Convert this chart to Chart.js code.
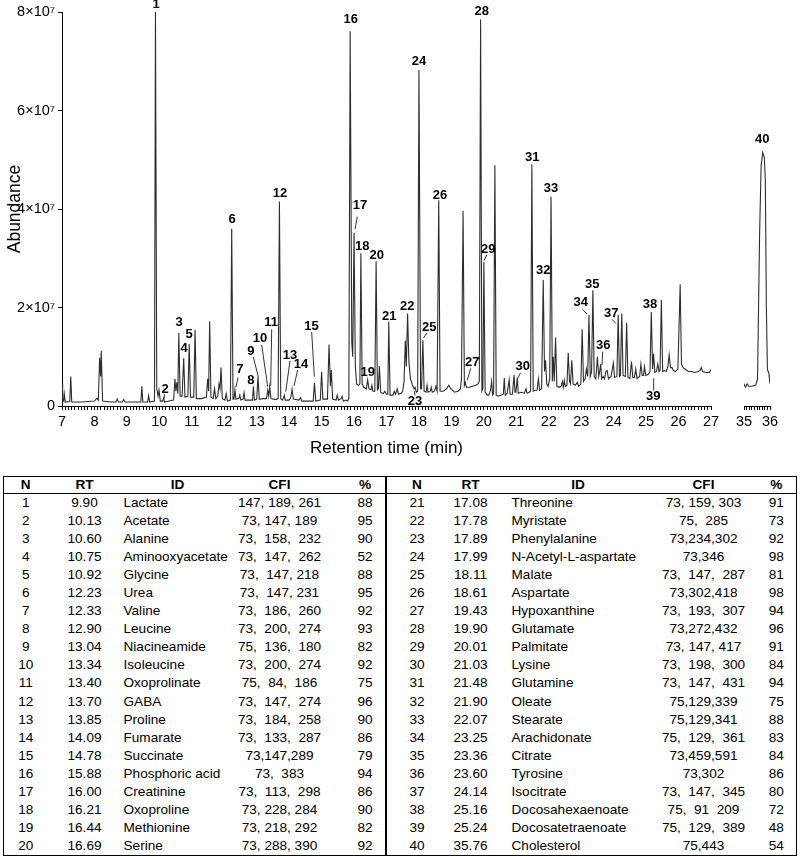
<!DOCTYPE html>
<html><head><meta charset="utf-8">
<script src="https://cdn.jsdelivr.net/npm/chart.js@4.4.1/dist/chart.umd.min.js"></script>
<style>
html,body{margin:0;padding:0;background:#fff;}
body{width:800px;height:856px;position:relative;overflow:hidden;font-family:'Liberation Sans',Arial,Helvetica,sans-serif;}
#c1wrap{position:absolute;left:0;top:0;width:730px;height:465px;}
#c2wrap{position:absolute;left:730px;top:0;width:70px;height:465px;}
#tbl{position:absolute;left:3px;top:476px;width:793px;border-collapse:collapse;table-layout:fixed;font-size:13.6px;color:#000;border:1.5px solid #000;}
#tbl td,#tbl th{padding:0;white-space:pre;text-align:center;vertical-align:middle;line-height:16px;overflow:visible;}
#tbl th{font-weight:bold;height:16px;border-bottom:1px solid #000;}
#tbl td{height:18.05px;}
#tbl .id{text-align:left;padding-left:2px;}
#tbl .id2{text-align:left;padding-left:18px;}
#tbl .div{border-left:2px solid #000;}
</style>
</head><body>
<div id="c1wrap"><canvas id="c1"></canvas></div>
<div id="c2wrap"><canvas id="c2"></canvas></div>
<table id="tbl">
<colgroup>
<col style="width:44px"><col style="width:74px"><col style="width:92px"><col style="width:132px"><col style="width:40px">
<col style="width:62px"><col style="width:46px"><col style="width:157px"><col style="width:106px"><col style="width:40px">
</colgroup>
<thead><tr>
<th>N</th><th>RT</th><th style="padding-left:20px">ID</th><th>CFI</th><th>%</th>
<th class="div">N</th><th>RT</th><th style="padding-left:12px">ID</th><th>CFI</th><th>%</th>
</tr></thead>
<tbody id="tbody"></tbody>
</table>
<script>
// ---- Chromatogram trace: [retention time (min), abundance (x10^7)] ----
const traceSeg1 = [
[7.00,0.45],[7.02,0.12],[7.05,0.10],[7.07,0.25],[7.10,0.08],[7.24,0.09],[7.27,0.60],[7.30,0.08],
[7.60,0.08],[7.80,0.09],[8.00,0.10],[8.08,0.16],[8.12,0.12],[8.16,0.98],[8.19,0.60],[8.21,1.12],[8.25,0.10],
[8.50,0.08],[8.66,0.08],[8.70,0.14],[8.74,0.08],[8.86,0.08],[8.90,0.13],[8.94,0.08],[9.20,0.08],
[9.43,0.08],[9.46,0.40],[9.49,0.08],[9.64,0.08],[9.67,0.21],[9.70,0.08],[9.85,0.10],[9.88,8.00],
[9.92,0.35],[9.96,0.20],[9.99,0.32],[10.03,0.10],[10.10,0.10],[10.13,0.16],[10.16,0.08],[10.30,0.10],
[10.44,0.12],[10.48,0.55],[10.51,0.30],[10.54,0.48],[10.57,0.25],[10.60,1.48],[10.64,0.20],[10.70,0.20],
[10.75,0.97],[10.79,0.18],[10.88,0.20],[10.92,1.26],[10.96,0.18],[11.06,0.18],[11.10,1.55],[11.14,0.15],
[11.30,0.15],[11.45,0.18],[11.49,0.55],[11.52,0.30],[11.55,1.72],[11.59,0.18],[11.66,0.15],[11.70,0.35],
[11.74,0.15],[11.80,0.20],[11.84,0.45],[11.87,0.35],[11.90,0.78],[11.94,0.15],[12.02,0.12],[12.06,0.25],
[12.10,0.10],[12.19,0.12],[12.23,3.60],[12.27,0.14],[12.30,0.15],[12.33,0.33],[12.36,0.14],[12.45,0.15],
[12.48,0.22],[12.51,0.12],[12.58,0.14],[12.61,0.27],[12.64,0.12],[12.80,0.12],[12.87,0.12],[12.90,0.40],
[12.93,0.12],[13.00,0.14],[13.04,0.60],[13.08,0.14],[13.20,0.15],[13.30,0.15],[13.34,0.32],[13.37,0.20],
[13.40,0.39],[13.44,0.15],[13.58,0.13],[13.66,0.15],[13.70,4.15],[13.74,0.15],[13.80,0.12],[13.85,0.22],
[13.88,0.12],[14.00,0.12],[14.05,0.17],[14.09,0.34],[14.13,0.14],[14.30,0.12],[14.35,0.17],[14.39,0.10],
[14.60,0.10],[14.74,0.10],[14.78,0.47],[14.82,0.10],[14.96,0.12],[15.00,0.69],[15.04,0.14],[15.18,0.14],
[15.23,1.25],[15.27,0.40],[15.30,0.73],[15.34,0.14],[15.45,0.12],[15.48,0.22],[15.52,0.12],[15.60,0.15],
[15.63,0.20],[15.67,0.10],[15.75,0.12],[15.80,0.10],[15.84,0.15],[15.88,7.61],[15.93,1.30],[15.96,1.00],
[16.00,3.52],[16.04,0.80],[16.08,0.45],[16.14,0.42],[16.18,0.45],[16.21,3.10],[16.25,0.45],[16.30,0.38],
[16.38,0.35],[16.42,0.53],[16.46,0.35],[16.52,0.33],[16.55,0.42],[16.58,0.30],[16.64,0.30],[16.68,2.94],
[16.72,0.33],[16.75,0.35],[16.78,0.81],[16.82,0.28],[16.90,0.25],[16.95,0.30],[17.00,0.24],[17.04,0.24],
[17.07,1.71],[17.11,0.22],[17.20,0.22],[17.24,0.30],[17.28,0.24],[17.33,0.35],[17.37,0.24],[17.45,0.26],
[17.50,0.30],[17.54,0.50],[17.58,1.33],[17.61,0.80],[17.65,1.88],[17.69,0.90],[17.74,0.55],[17.80,0.42],
[17.85,0.35],[17.88,0.38],[17.92,0.28],[17.96,0.30],[18.00,6.82],[18.05,0.35],[18.08,0.35],[18.12,1.34],
[18.16,0.30],[18.22,0.28],[18.25,0.42],[18.28,0.28],[18.35,0.30],[18.38,0.38],[18.41,0.28],[18.48,0.30],
[18.52,0.40],[18.56,0.30],[18.61,4.18],[18.65,0.30],[18.75,0.30],[18.85,0.35],[18.92,0.42],[18.98,0.35],
[19.10,0.28],[19.20,0.30],[19.28,0.35],[19.31,0.55],[19.36,3.96],[19.40,0.42],[19.43,0.48],[19.46,0.38],
[19.55,0.38],[19.65,0.40],[19.75,0.42],[19.82,0.45],[19.86,0.50],[19.90,7.85],[19.94,0.30],[19.97,0.35],
[20.00,2.93],[20.04,0.28],[20.10,0.22],[20.15,0.22],[20.20,0.30],[20.24,0.50],[20.27,0.22],[20.30,0.25],
[20.34,4.89],[20.38,0.22],[20.45,0.20],[20.52,0.22],[20.60,0.24],[20.63,0.57],[20.66,0.22],[20.72,0.26],
[20.78,0.53],[20.81,0.24],[20.88,0.24],[20.93,0.63],[20.96,0.28],[20.99,0.30],[21.03,0.57],[21.06,0.26],
[21.15,0.28],[21.25,0.26],[21.30,0.35],[21.33,0.26],[21.40,0.28],[21.44,0.30],[21.48,4.91],[21.52,0.30],
[21.58,0.32],[21.64,0.32],[21.68,0.55],[21.72,0.32],[21.78,0.35],[21.83,2.56],[21.87,0.70],[21.90,0.93],
[21.94,0.45],[21.98,0.40],[22.03,0.55],[22.07,4.25],[22.11,0.50],[22.14,1.00],[22.17,0.50],[22.21,1.39],
[22.25,0.40],[22.32,0.38],[22.38,0.40],[22.42,0.50],[22.45,0.38],[22.48,0.52],[22.51,0.40],[22.56,0.42],
[22.60,1.08],[22.64,0.50],[22.67,0.45],[22.71,0.93],[22.75,0.45],[22.82,0.42],[22.88,0.48],[22.92,0.40],
[22.99,0.45],[23.03,1.56],[23.07,0.50],[23.12,0.55],[23.16,0.75],[23.20,0.60],[23.24,1.85],[23.28,0.60],
[23.32,0.70],[23.36,2.35],[23.40,0.60],[23.45,0.55],[23.50,1.00],[23.54,0.60],[23.57,0.70],[23.60,0.85],
[23.63,0.55],[23.68,0.60],[23.72,0.55],[23.76,0.70],[23.80,0.72],[23.84,0.55],[23.92,0.60],[23.96,0.75],
[23.99,0.87],[24.03,0.58],[24.10,0.60],[24.14,1.85],[24.18,0.60],[24.21,0.62],[24.25,1.88],[24.29,0.62],
[24.36,0.60],[24.40,1.69],[24.44,0.58],[24.50,0.56],[24.55,0.90],[24.59,0.58],[24.64,0.58],[24.68,0.75],
[24.72,0.56],[24.80,0.60],[24.84,0.85],[24.88,0.62],[24.92,0.62],[24.95,0.80],[24.99,0.62],[25.06,0.64],
[25.12,0.70],[25.16,1.91],[25.20,0.75],[25.23,1.06],[25.27,0.68],[25.32,0.70],[25.36,0.85],[25.40,0.70],
[25.43,0.72],[25.47,2.15],[25.51,0.70],[25.56,0.72],[25.62,0.70],[25.67,0.80],[25.71,1.04],[25.75,0.78],
[25.80,0.78],[25.84,0.72],[25.90,0.70],[25.98,0.75],[26.05,2.47],[26.09,0.85],[26.14,0.78],[26.20,0.75],
[26.30,0.70],[26.40,0.70],[26.50,0.68],[26.60,0.70],[26.66,0.72],[26.70,0.78],[26.74,0.70],[26.85,0.68],
[26.95,0.68],[27.00,0.74]
];
const traceSeg2 = [
[35.00,0.45],[35.06,0.38],[35.12,0.45],[35.18,0.40],[35.30,0.40],[35.45,0.42],[35.52,0.55],[35.60,3.50],
[35.66,4.90],[35.72,5.15],[35.78,5.05],[35.82,4.60],[35.86,2.00],[35.90,0.75],[35.96,0.65],[36.00,0.45]
];

// ---- Axis ranges / ticks ----
const xRange1 = [7, 27];
const xRange2 = [35, 36];
const xMinorStep = 0.1;
const yRange = [0, 8];          // x10^7
const yStep = 2;

// ---- Peak labels: [number, label RT, label abundance, leader [rt1, ab1, rt2, ab2] or null] ----
const peakLabels = [
[1,9.897,8.16,null],[2,10.174,0.345,[10.153,0.244,10.153,0.152]],[3,10.606,1.706,null],[4,10.76,1.178,null],
[5,10.914,1.462,null],[6,12.239,3.797,null],[7,12.485,0.745,[12.424,0.579,12.362,0.386]],[8,12.824,0.514,null],
[9,12.824,1.117,[12.895,0.995,13.049,0.595]],[10,13.102,1.375,[13.154,1.239,13.339,0.392]],
[11,13.441,1.691,[13.462,1.557,13.431,0.406]],[12,13.718,4.325,null],[13,14.026,1.036,[14.026,0.914,13.894,0.29]],
[14,14.365,0.853,[14.263,0.731,14.149,0.406]],[15,14.689,1.624,[14.695,1.503,14.775,0.595]],[16,15.897,7.858,null],
[17,16.183,4.067,[16.10,3.844,16.029,3.588]],[18,16.254,3.235,null],[19,16.421,0.676,null],[20,16.698,3.066,null],
[21,17.086,1.827,null],[22,17.641,2.03,null],[23,17.878,0.087,[17.878,0.213,17.857,0.305]],[24,18.002,7.005,null],
[25,18.319,1.598,[18.248,1.482,18.14,1.381]],[26,18.649,4.284,null],[27,19.644,0.879,[19.595,0.765,19.49,0.528]],
[28,19.934,8.02,null],[29,20.137,3.182,[20.088,3.066,20.005,2.95]],[30,21.197,0.798,[21.135,0.676,21.043,0.562]],
[31,21.493,5.042,null],[32,21.832,2.761,null],[33,22.069,4.42,null],[34,22.985,2.097,[23.046,1.963,23.169,1.868]],
[35,23.342,2.471,null],[36,23.681,1.239,[23.662,1.103,23.641,0.832]],[37,23.928,1.882,[23.949,1.76,24.063,1.679]],
[38,25.12,2.065,null],[39,25.222,0.189,[25.233,0.315,25.233,0.562]],[40,35.704,5.415,null]
];

// ---- Table ----
const tabN   = Array.from({length:40},(_, i)=>i+1);
const tabRT  = ['9.90','10.13','10.60','10.75','10.92','12.23','12.33','12.90','13.04','13.34','13.40','13.70','13.85','14.09','14.78','15.88','16.00','16.21','16.44','16.69',
                '17.08','17.78','17.89','17.99','18.11','18.61','19.43','19.90','20.01','21.03','21.48','21.90','22.07','23.25','23.36','23.60','24.14','25.16','25.24','35.76'];
const tabID  = ['Lactate','Acetate','Alanine','Aminooxyacetate','Glycine','Urea','Valine','Leucine','Niacineamide','Isoleucine','Oxoprolinate','GABA','Proline','Fumarate','Succinate','Phosphoric acid','Creatinine','Oxoproline','Methionine','Serine',
                'Threonine','Myristate','Phenylalanine','N-Acetyl-L-aspartate','Malate','Aspartate','Hypoxanthine','Glutamate','Palmitate','Lysine','Glutamine','Oleate','Stearate','Arachidonate','Citrate','Tyrosine','Isocitrate','Docosahexaenoate','Docosatetraenoate','Cholesterol'];
const tabCFI = ['147, 189, 261','73, 147, 189','73,  158,  232','73,  147,  262','73,  147, 218','73,  147, 231','73,  186,  260','73,  200,  274','75,  136,  180','73,  200,  274',
                '75,  84,  186','73,  147,  274','73,  184,  258','73,  133,  287','73,147,289','73,  383','73,  113,  298','73, 228, 284','73, 218, 292','73, 288, 390',
                '73, 159, 303','75,  285','73,234,302','73,346','73,  147,  287','73,302,418','73,  193,  307','73,272,432','73, 147, 417','73,  198,  300',
                '73,  147,  431','75,129,339','75,129,341','75,  129,  361','73,459,591','73,302','73,  147,  345','75,  91  209','75,  129,  389','75,443'];
const tabPct = ['88','95','90','52','88','95','92','93','82','92','75','96','90','86','79','94','86','90','82','92',
                '91','73','92','98','81','98','94','96','91','84','94','75','88','83','84','86','80','72','48','54'];

const tb = document.getElementById('tbody');
for (let r = 0; r < 20; r++) {
  const a = r, b = r + 20;
  const tr = document.createElement('tr');
  tr.innerHTML =
    `<td>${tabN[a]}</td><td>${tabRT[a]}</td><td class="id">${tabID[a]}</td><td>${tabCFI[a]}</td><td>${tabPct[a]}</td>` +
    `<td class="div">${tabN[b]}</td><td>${tabRT[b]}</td><td class="id2">${tabID[b]}</td><td>${tabCFI[b]}</td><td>${tabPct[b]}</td>`;
  tb.appendChild(tr);
}

// ---- Charts ----
Chart.defaults.font.family = "'Liberation Sans', Arial, Helvetica, sans-serif";
Chart.defaults.color = '#000';

function labelPlugin(items) {
  return {
    id: 'peakLabels',
    afterDatasetsDraw(chart) {
      const xs = chart.scales.x, ys = chart.scales.y, ctx = chart.ctx;
      ctx.save();
      ctx.font = "bold 13px 'Liberation Sans', Arial, sans-serif";
      ctx.fillStyle = '#000'; ctx.strokeStyle = '#000'; ctx.lineWidth = 0.8;
      ctx.textAlign = 'center'; ctx.textBaseline = 'middle';
      for (const [n, lt, la, lead] of items) {
        if (lead) {
          ctx.beginPath();
          ctx.moveTo(xs.getPixelForValue(lead[0]), ys.getPixelForValue(lead[1]));
          ctx.lineTo(xs.getPixelForValue(lead[2]), ys.getPixelForValue(lead[3]));
          ctx.stroke();
        }
        ctx.fillText(String(n), xs.getPixelForValue(lt), ys.getPixelForValue(la));
      }
      ctx.restore();
    }
  };
}

function xScale(range) {
  return {
    type: 'linear', min: range[0], max: range[1],
    afterFit: s => { s.height = 53; },
    ticks: {
      stepSize: xMinorStep, autoSkip: false, maxRotation: 0, minRotation: 0, padding: 3,
      font: { size: 14.5 }, color: '#000',
      callback: v => Math.abs(v - Math.round(v)) < 1e-6 ? String(Math.round(v)) : ''
    },
    grid: { drawOnChartArea: false, drawTicks: true, tickLength: 4, color: '#000', tickColor: '#000', lineWidth: 1 },
    border: { display: true, color: '#000', width: 1 },
    title: { display: range === xRange1, text: 'Retention time (min)', font: { size: 17 }, color: '#000', padding: { top: 0, bottom: 0 } }
  };
}

const lineDs = pts => ({
  data: pts.map(([x, y]) => ({ x, y })),
  borderColor: '#2e2e2e', borderWidth: 1.1, pointRadius: 0, tension: 0, fill: false
});

new Chart(document.getElementById('c1'), {
  type: 'line',
  data: { datasets: [lineDs(traceSeg1)] },
  options: {
    responsive: true, maintainAspectRatio: false, animation: false, events: [],
    layout: { padding: { top: 12, right: 19, bottom: 6, left: 0 } },
    plugins: { legend: { display: false }, tooltip: { enabled: false } },
    scales: {
      x: xScale(xRange1),
      y: {
        min: yRange[0], max: yRange[1],
        afterFit: s => { s.width = 62; },
        ticks: { stepSize: yStep, padding: 3, font: { size: 14.5 }, color: '#000',
                 callback: v => v === 0 ? '0' : v + '×10⁷' },
        grid: { drawOnChartArea: false, drawTicks: true, tickLength: 4, color: '#000' },
        border: { display: true, color: '#000', width: 1 },
        title: { display: true, text: 'Abundance', font: { size: 17.5 }, color: '#000', padding: { top: 5, bottom: 0 } }
      }
    }
  },
  plugins: [labelPlugin(peakLabels.filter(p => p[1] < xRange1[1] + 1))]
});

new Chart(document.getElementById('c2'), {
  type: 'line',
  data: { datasets: [lineDs(traceSeg2)] },
  options: {
    responsive: true, maintainAspectRatio: false, animation: false, events: [],
    layout: { padding: { top: 12, right: 30, bottom: 6, left: 14 } },
    plugins: { legend: { display: false }, tooltip: { enabled: false } },
    scales: {
      x: xScale(xRange2),
      y: { display: false, min: yRange[0], max: yRange[1] }
    }
  },
  plugins: [labelPlugin(peakLabels.filter(p => p[1] >= xRange2[0] - 1))]
});
</script>
</body></html>
